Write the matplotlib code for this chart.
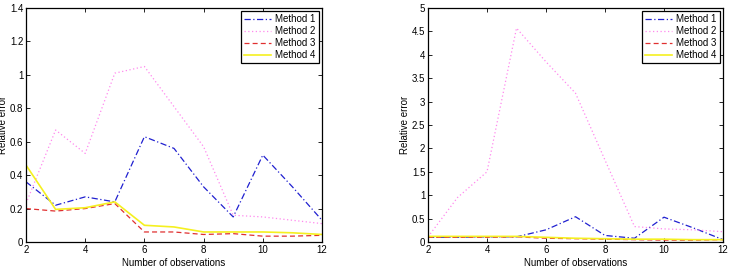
import matplotlib
matplotlib.use("Agg")
import matplotlib.pyplot as plt

plt.rcParams['font.family'] = ['Liberation Sans', 'DejaVu Sans']

x = [2, 3, 4, 5, 6, 7, 8, 9, 10, 11, 12]
labels = ["Method 1", "Method 2", "Method 3", "Method 4"]

left_m1 = [0.36, 0.22, 0.27, 0.24, 0.63, 0.56, 0.33, 0.15, 0.52, 0.33, 0.13]
left_m2 = [0.23, 0.67, 0.53, 1.01, 1.05, 0.81, 0.57, 0.16, 0.15, 0.13, 0.11]
left_m3 = [0.20, 0.185, 0.20, 0.23, 0.06, 0.06, 0.045, 0.05, 0.035, 0.035, 0.04]
left_m4 = [0.46, 0.195, 0.205, 0.24, 0.10, 0.09, 0.06, 0.06, 0.06, 0.055, 0.045]

right_m1 = [0.10, 0.10, 0.11, 0.11, 0.26, 0.54, 0.14, 0.08, 0.53, 0.30, 0.05]
right_m2 = [0.11, 0.95, 1.50, 4.57, 3.85, 3.18, 1.75, 0.33, 0.28, 0.26, 0.22]
right_m3 = [0.10, 0.10, 0.10, 0.11, 0.08, 0.07, 0.06, 0.05, 0.04, 0.04, 0.05]
right_m4 = [0.12, 0.12, 0.12, 0.12, 0.10, 0.08, 0.07, 0.06, 0.06, 0.05, 0.05]

left_yticks = [0, 0.2, 0.4, 0.6, 0.8, 1, 1.2, 1.4]
left_yticklabels = ["0", "0.2", "0.4", "0.6", "0.8", "1", "1.2", "1.4"]
right_yticks = [0, 0.5, 1, 1.5, 2, 2.5, 3, 3.5, 4, 4.5, 5]
right_yticklabels = ["0", "0.5", "1", "1.5", "2", "2.5", "3", "3.5", "4", "4.5", "5"]
xticks = [2, 4, 6, 8, 10, 12]

styles = [
    dict(color="#2020d0", linestyle=(0, (5, 2, 1, 2)), lw=0.9),
    dict(color="#ff88ee", linestyle=(0, (1, 2)), lw=0.9),
    dict(color="#e03030", linestyle=(0, (4, 2.5)), lw=0.9),
    dict(color="#f5f020", linestyle="-", lw=1.2),
]

fig = plt.figure(figsize=(7.30, 2.78), dpi=100)
ax1 = fig.add_axes([26/730, 36/278, 296/730, 234/278])
ax2 = fig.add_axes([428/730, 36/278, 295/730, 234/278])

for ax, series, yt, ytl, ymax in [
    (ax1, [left_m1, left_m2, left_m3, left_m4], left_yticks, left_yticklabels, 1.4),
    (ax2, [right_m1, right_m2, right_m3, right_m4], right_yticks, right_yticklabels, 5),
]:
    for s, lab, st in zip(series, labels, styles):
        ax.plot(x, s, label=lab, **st)
    ax.set_xlim(2, 12)
    ax.set_ylim(0, ymax)
    ax.set_xticks(xticks)
    ax.set_xticklabels([str(t) for t in xticks])
    ax.set_yticks(yt)
    ax.set_yticklabels(ytl)
    ax.tick_params(direction="in", top=True, right=True, labelsize=7, length=3, width=0.6, pad=2)
    for sp in ax.spines.values():
        sp.set_linewidth(0.9)
    ax.set_xlabel("Number of observations", fontsize=7, labelpad=2)
    ax.set_ylabel("Relative error", fontsize=7, labelpad=1)
    leg = ax.legend(loc="upper right", fontsize=7, fancybox=False, edgecolor="black",
                    framealpha=1, borderpad=0.3, labelspacing=0.2, handlelength=2.8,
                    handletextpad=0.4, borderaxespad=0.35)
    leg.get_frame().set_linewidth(0.9)

fig.savefig("out.png", dpi=100)
